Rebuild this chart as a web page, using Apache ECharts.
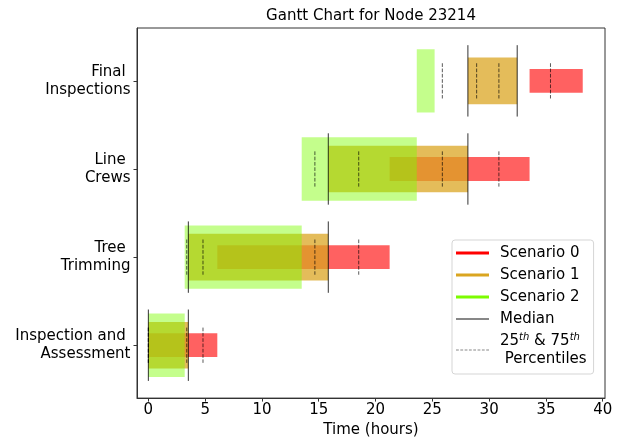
<!DOCTYPE html>
<html>
<head>
<meta charset="utf-8">
<script src="https://cdn.jsdelivr.net/npm/echarts@6/dist/echarts.min.js"></script>
<style>html,body{margin:0;padding:0;background:#fff;}#chart{width:624px;height:443px;}</style>
</head>
<body>
<div id="chart"></div>
<script>
const categories = ['Inspection and \nAssessment', 'Tree \nTrimming', 'Line \nCrews', 'Final \nInspections'];
const xTicks = [0, 5, 10, 15, 20, 25, 30, 35, 40];
const scenario0Start = [0, 6.07, 21.24, 33.56];
const scenario0End = [6.07, 21.24, 33.56, 38.24];
const scenario1Start = [0, 3.52, 15.84, 28.13];
const scenario1End = [3.52, 15.84, 28.13, 32.47];
const scenario2Start = [0, 3.2, 13.5, 23.63];
const scenario2End = [3.2, 13.5, 23.63, 25.2];
const medianStart = [0, 3.52, 15.84, 28.13];
const medianEnd = [3.52, 15.84, 28.13, 32.47];
const p25Start = [0, 3.38, 14.66, 25.88];
const p75Start = [0, 4.81, 18.52, 30.86];
const p25End = [3.38, 14.66, 25.88, 28.9];
const p75End = [4.81, 18.52, 30.86, 35.4];

const FONT = 'DejaVu Sans';
const FS = 15;

function barSeries(name, starts, ends, fill, h) {
  return {
    name: name,
    type: 'custom',
    itemStyle: { color: fill },
    encode: { x: [1, 2], y: 0 },
    data: categories.map((c, i) => [i, starts[i], ends[i]]),
    renderItem: function (params, api) {
      const y = api.value(0);
      const p1 = api.coord([api.value(1), y + h / 2]);
      const p2 = api.coord([api.value(2), y - h / 2]);
      return {
        type: 'rect',
        shape: { x: p1[0], y: p1[1], width: p2[0] - p1[0], height: p2[1] - p1[1] },
        style: { fill: fill }
      };
    }
  };
}

function vlineSeries(name, values, h, stroke, dash) {
  const data = [];
  values.forEach(arr => arr.forEach((v, i) => data.push([i, v])));
  return {
    name: name,
    type: 'custom',
    itemStyle: { color: stroke },
    encode: { x: 1, y: 0 },
    data: data,
    renderItem: function (params, api) {
      const y = api.value(0);
      const p1 = api.coord([api.value(1), y + h / 2]);
      const p2 = api.coord([api.value(1), y - h / 2]);
      return {
        type: 'line',
        shape: { x1: p1[0], y1: p1[1], x2: p2[0], y2: p2[1] },
        style: { stroke: stroke, lineWidth: 1, lineDash: dash || null }
      };
    }
  };
}

const dashPath = 'path://' + [0, 1, 2, 3, 4, 5, 6, 7].map(k => {
  const x = k * 4;
  return 'M' + x + ',0H' + (x + 2.6) + 'V1H' + x + 'Z';
}).join(' ');

const chart = echarts.init(document.getElementById('chart'), null, { renderer: 'canvas' });
chart.setOption({
  animation: false,
  textStyle: { fontFamily: FONT },
  title: {
    text: 'Gantt Chart for Node 23214',
    left: 371, top: 9, textAlign: 'center', padding: 0,
    textStyle: { fontFamily: FONT, fontSize: FS, fontWeight: 'normal', color: '#000' }
  },
  grid: {
    left: 137, right: 19, top: 28, bottom: 43,
    show: true, borderColor: '#333', borderWidth: 1, backgroundColor: 'transparent'
  },
  legend: {
    orient: 'vertical',
    left: 452, top: 240,
    padding: [4, 7, 6, 4],
    itemWidth: 33, itemHeight: 14, itemGap: 4,
    backgroundColor: '#fff', borderColor: '#d5d5d5', borderWidth: 1, borderRadius: 3,
    selectedMode: false,
    symbolKeepAspect: true,
    data: [
      { name: 'Scenario 0', icon: 'path://M0,0H33V3H0Z', itemStyle: { color: '#ff0000' } },
      { name: 'Scenario 1', icon: 'path://M0,0H33V3H0Z', itemStyle: { color: '#daa520' } },
      { name: 'Scenario 2', icon: 'path://M0,0H33V3H0Z', itemStyle: { color: '#7cfc00' } },
      { name: 'Median', icon: 'path://M0,0H33V1H0Z', itemStyle: { color: '#111' } },
      { name: 'Percentiles', icon: dashPath, itemStyle: { color: '#888' } }
    ],
    formatter: function (name) {
      if (name === 'Percentiles') {
        return '{t|25}{s|th}{t| & 75}{s|th}\n{t| Percentiles}';
      }
      return name;
    },
    textStyle: {
      fontFamily: FONT, fontSize: FS, color: '#000', lineHeight: 18, padding: [0, 0, 0, 6],
      rich: {
        t: { fontFamily: FONT, fontSize: FS, lineHeight: 18, color: '#000' },
        s: { fontFamily: FONT, fontSize: 10, fontStyle: 'italic', lineHeight: 8, verticalAlign: 'top', color: '#000' }
      }
    }
  },
  xAxis: {
    type: 'value',
    min: -1, max: 40.2,
    name: 'Time (hours)',
    nameLocation: 'middle',
    nameGap: 23,
    nameTextStyle: { fontFamily: FONT, fontSize: FS, color: '#000' },
    axisLine: { show: true, onZero: false, lineStyle: { color: '#333', width: 1 } },
    axisTick: { show: true, length: 3.5, lineStyle: { color: '#333' }, customValues: xTicks },
    axisLabel: { customValues: xTicks, fontFamily: FONT, fontSize: FS, color: '#000', margin: 5 },
    splitLine: { show: false }
  },
  yAxis: {
    type: 'value',
    min: -0.6, max: 3.6,
    axisLine: { show: true, onZero: false, lineStyle: { color: '#333', width: 1 } },
    axisTick: { show: true, length: 3.5, lineStyle: { color: '#333' }, customValues: [0, 1, 2, 3] },
    axisLabel: {
      customValues: [0, 1, 2, 3],
      formatter: v => categories[Math.round(v)],
      fontFamily: FONT, fontSize: FS, color: '#000', lineHeight: 17.5, margin: 6.5, align: 'right',
      padding: [5, 0, 0, 0]
    },
    splitLine: { show: false }
  },
  series: [
    barSeries('Scenario 0', scenario0Start, scenario0End, 'rgba(255,0,0,0.62)', 0.27),
    barSeries('Scenario 1', scenario1Start, scenario1End, 'rgba(218,165,32,0.74)', 0.53),
    barSeries('Scenario 2', scenario2Start, scenario2End, 'rgba(124,252,0,0.45)', 0.72),
    vlineSeries('Median', [medianStart, medianEnd], 0.81, 'rgba(0,0,0,0.8)'),
    vlineSeries('Percentiles', [p25Start, p75Start, p25End, p75End], 0.4, 'rgba(0,0,0,0.65)', [3.7, 1.6])
  ]
});
</script>
</body>
</html>
